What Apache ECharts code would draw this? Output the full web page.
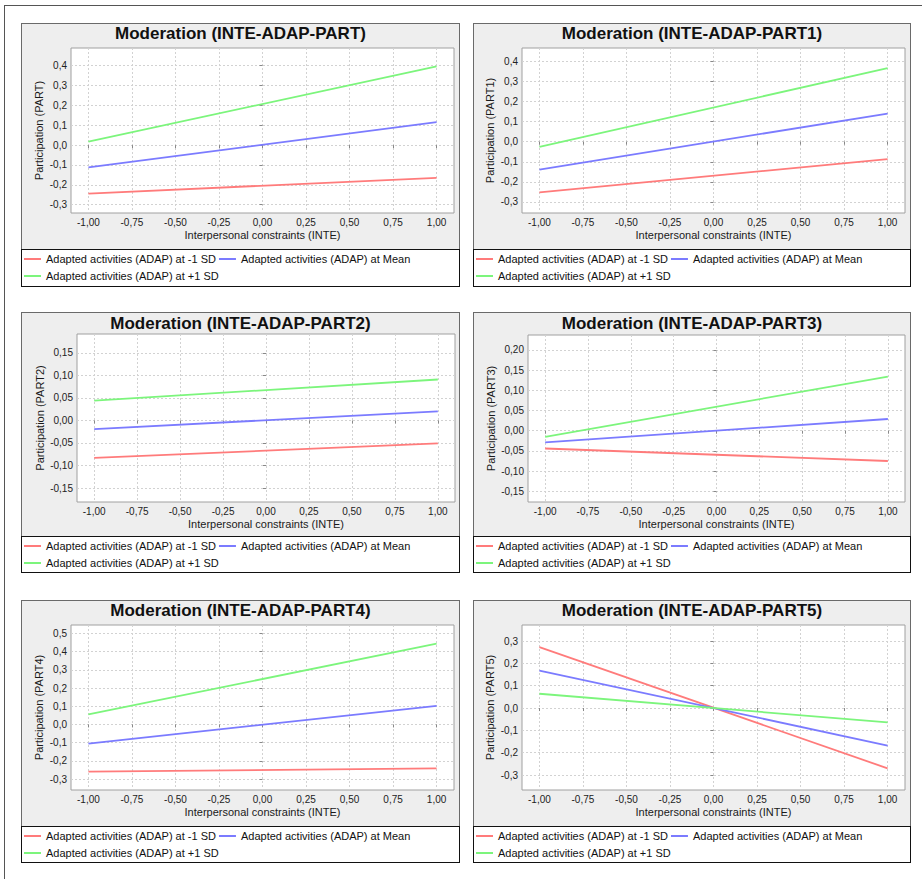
<!DOCTYPE html>
<html><head><meta charset="utf-8">
<script src="https://cdn.jsdelivr.net/npm/echarts@6/dist/echarts.min.js"></script>
<style>
html,body{margin:0;padding:0;background:#fff;width:922px;height:879px;overflow:hidden;}
#frame{position:absolute;left:4px;top:5px;width:940px;height:900px;border-left:1.5px solid #555;border-top:1.5px solid #555;}
.panel{position:absolute;background:#eeeeee;border:1px solid #6a6a6a;box-sizing:border-box;}
.leg{position:absolute;background:#fff;border:1.5px solid #111;box-sizing:border-box;}
#chart{position:absolute;left:0;top:0;width:922px;height:879px;}
</style></head><body>
<div id="frame"></div>
<div id="bg"></div>
<div id="chart"></div>
<script>
// ---- data ----
const titles = ['Moderation (INTE-ADAP-PART)','Moderation (INTE-ADAP-PART1)','Moderation (INTE-ADAP-PART2)','Moderation (INTE-ADAP-PART3)','Moderation (INTE-ADAP-PART4)','Moderation (INTE-ADAP-PART5)'];
const yNames = ['Participation (PART)','Participation (PART1)','Participation (PART2)','Participation (PART3)','Participation (PART4)','Participation (PART5)'];
const xName = 'Interpersonal constraints (INTE)';
const seriesNames = ['Adapted activities (ADAP) at -1 SD','Adapted activities (ADAP) at Mean','Adapted activities (ADAP) at +1 SD'];
const xValues = [-1, 1];
const xTicks = [-1, -0.75, -0.5, -0.25, 0, 0.25, 0.5, 0.75, 1];
const yTicksA = [-0.3, -0.2, -0.1, 0, 0.1, 0.2, 0.3, 0.4];
const yTicksB = [-0.15, -0.1, -0.05, 0, 0.05, 0.1, 0.15];
const yTicksC = [-0.15, -0.1, -0.05, 0, 0.05, 0.1, 0.15, 0.2];
const yTicksD = [-0.3, -0.2, -0.1, 0, 0.1, 0.2, 0.3, 0.4, 0.5];
const yTicksE = [-0.3, -0.2, -0.1, 0, 0.1, 0.2, 0.3];
const yTicks = [yTicksA, yTicksA, yTicksB, yTicksC, yTicksD, yTicksE];
const yDecimals = [1, 1, 2, 2, 1, 1];
const yMin = [-0.342, -0.355, -0.181, -0.1765, -0.36, -0.367];
const yMax = [0.489, 0.466, 0.192, 0.237, 0.546, 0.372];
// values at INTE = -1 and +1
const lowSD  = [[-0.244, -0.165], [-0.252, -0.087], [-0.083, -0.051], [-0.044, -0.075], [-0.259, -0.241], [0.273, -0.270]];
const meanSD = [[-0.112, 0.116], [-0.139, 0.140], [-0.019, 0.020], [-0.029, 0.029], [-0.105, 0.102], [0.168, -0.168]];
const highSD = [[0.018, 0.396], [-0.026, 0.366], [0.044, 0.091], [-0.015, 0.134], [0.055, 0.444], [0.064, -0.064]];

// ---- layout ----
const cols = [{x: 21, w: 439}, {x: 473, w: 438}];
const rows = [{y: 23, leg: 249, bot: 287, title: 33}, {y: 312, leg: 536, bot: 573, title: 323}, {y: 600, leg: 826, bot: 863, title: 610}];
const grids = [
  {left: 71, top: 48, width: 383, height: 165},
  {left: 522, top: 48, width: 383, height: 165},
  {left: 77, top: 334, width: 378, height: 168},
  {left: 528, top: 335, width: 377, height: 167},
  {left: 71, top: 625, width: 383, height: 165},
  {left: 522, top: 625, width: 383, height: 165}
];
const colors = ['#ff7b7b', '#7b7bff', '#7cf57c'];
const FONT = '"Liberation Sans", Arial, sans-serif';

const bg = document.getElementById('bg');
for (let i = 0; i < 6; i++) {
  const c = cols[i % 2], r = rows[Math.floor(i / 2)];
  const p = document.createElement('div');
  p.className = 'panel';
  p.style.left = c.x + 'px'; p.style.top = r.y + 'px';
  p.style.width = c.w + 'px'; p.style.height = (r.leg - r.y + 1) + 'px';
  bg.appendChild(p);
  const l = document.createElement('div');
  l.className = 'leg';
  l.style.left = c.x + 'px'; l.style.top = r.leg + 'px';
  l.style.width = c.w + 'px'; l.style.height = (r.bot - r.leg) + 'px';
  bg.appendChild(l);
}

const chart = echarts.init(document.getElementById('chart'), null, {renderer: 'svg'});
const option = {
  animation: false,
  backgroundColor: 'transparent',
  textStyle: {fontFamily: FONT},
  title: [], legend: [], grid: [], xAxis: [], yAxis: [], series: []
};
const fmt = (d) => (v) => v.toFixed(d).replace('.', ',');
for (let i = 0; i < 6; i++) {
  const c = cols[i % 2], r = rows[Math.floor(i / 2)];
  option.title.push({
    text: titles[i], left: c.x + c.w / 2, top: r.title, textAlign: 'center', textVerticalAlign: 'middle', padding: 0,
    textStyle: {fontFamily: FONT, fontSize: 17, fontWeight: 'bold', color: '#111'}
  });
  option.legend.push({
    data: seriesNames, left: c.x + 3, top: r.leg + 3, width: 430, padding: 0,
    itemWidth: 17, itemHeight: 2, itemGap: 3, icon: 'rect', selectedMode: false,
    textStyle: {fontFamily: FONT, fontSize: 11, color: '#111', lineHeight: 14}
  });
  option.grid.push(Object.assign({show: true, backgroundColor: '#ffffff', borderColor: '#a0a0a0', borderWidth: 1}, grids[i]));
  option.xAxis.push({
    type: 'value', gridIndex: i, min: -1.1, max: 1.1,
    name: xName, nameLocation: 'middle', nameGap: 16,
    nameTextStyle: {fontFamily: FONT, fontSize: 11, color: '#1a1a1a'},
    axisLine: {show: false},
    axisTick: {show: true, length: 3, customValues: xTicks, lineStyle: {color: '#888'}},
    axisLabel: {customValues: xTicks, formatter: fmt(2), fontFamily: FONT, fontSize: 10, color: '#222', margin: 4},
    splitLine: {show: true, lineStyle: {color: '#d2d2d2', type: [2, 2], width: 1}}
  });
  option.yAxis.push({
    type: 'value', gridIndex: i, min: yMin[i], max: yMax[i],
    name: yNames[i], nameLocation: 'middle', nameGap: (yDecimals[i] === 2 ? 32 : 27),
    nameTextStyle: {fontFamily: FONT, fontSize: 11, color: '#1a1a1a'},
    axisLine: {show: false},
    axisTick: {show: true, length: 3, customValues: yTicks[i], lineStyle: {color: '#888'}},
    axisLabel: {customValues: yTicks[i], formatter: fmt(yDecimals[i]), fontFamily: FONT, fontSize: 10, color: '#222', margin: 4},
    splitLine: {show: true, lineStyle: {color: '#d2d2d2', type: [2, 2], width: 1}}
  });
  [lowSD, meanSD, highSD].forEach((arr, k) => {
    option.series.push({
      type: 'line', name: seriesNames[k], xAxisIndex: i, yAxisIndex: i,
      symbol: 'none', silent: true,
      data: xValues.map((x, j) => [x, arr[i][j]]),
      lineStyle: {color: colors[k], width: 1.8}, itemStyle: {color: colors[k]}
    });
  });
}
chart.setOption(option);
</script>
</body></html>
